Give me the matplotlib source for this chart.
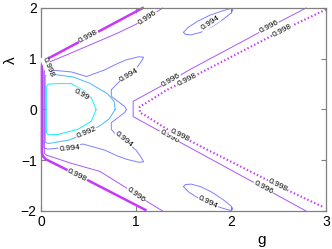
import numpy as np
import matplotlib
matplotlib.use("Agg")
import matplotlib.pyplot as plt

# ---------------- data: contour lines (g, lambda) ----------------
levels = [0.99, 0.992, 0.994, 0.996, 0.998]
xticks = [0, 1, 2, 3]
yticks = [-2, -1, 0, 1, 2]

c990_g = [0.58, 0.53, 0.46, 0.32, 0.18, 0.075, 0.056, 0.056, 0.075, 0.18, 0.39, 0.53, 0.58]
c990_l = [0.0, 0.23, 0.36, 0.51, 0.51, 0.50, 0.45, -0.45, -0.50, -0.49, -0.39, -0.23, 0.0]

c992_g = [0.78, 0.77, 0.70, 0.51, 0.34, 0.10, 0.045, 0.045, 0.08, 0.30, 0.48, 0.62, 0.72, 0.78]
c992_l = [0.0, 0.16, 0.31, 0.52, 0.64, 0.70, 0.67, -0.65, -0.67, -0.60, -0.46, -0.32, -0.18, 0.0]

c994_g = [0.90, 0.88, 0.74, 0.74, 0.83, 0.93, 1.00, 1.06, 1.08, 1.03, 0.90, 0.81, 0.67, 0.48,
          0.32, 0.09, 0.03, 0.03, 0.074, 0.30, 0.44, 0.67, 0.81, 0.90, 1.03, 1.08, 1.06, 1.00,
          0.87, 0.78, 0.74, 0.74, 0.88, 0.90]
c994_l = [0.0, 0.06, 0.26, 0.39, 0.56, 0.67, 0.80, 0.96, 1.03, 1.04, 0.98, 0.91, 0.78, 0.65,
          0.74, 0.78, 0.76, -0.76, -0.78, -0.74, -0.68, -0.80, -0.92, -0.98, -1.04, -1.03,
          -0.96, -0.80, -0.60, -0.48, -0.39, -0.26, -0.06, 0.0]

e994u_g = [1.50, 1.55, 1.65, 1.78, 1.92, 2.00, 2.02, 2.00, 1.92, 1.80, 1.68, 1.58, 1.52, 1.50]
e994u_l = [1.52, 1.62, 1.74, 1.86, 1.95, 1.99, 1.96, 1.90, 1.78, 1.63, 1.52, 1.47, 1.48, 1.52]
e994d_g = [1.50, 1.55, 1.65, 1.78, 1.92, 2.00, 2.02, 2.00, 1.92, 1.80, 1.68, 1.58, 1.52, 1.50]
e994d_l = [-1.52, -1.62, -1.74, -1.86, -1.95, -1.99, -1.96, -1.90, -1.78, -1.63, -1.52, -1.47, -1.48, -1.52]

c996a_g = [1.28, 1.12, 1.00, 0.80, 0.55, 0.30, 0.07, 0.035, 0.035, 0.06, 0.30, 0.62, 0.92, 1.00, 1.28]
c996a_l = [2.00, 1.80, 1.68, 1.50, 1.30, 1.10, 0.92, 0.86, -0.86, -0.90, -1.05, -1.22, -1.57, -1.68, -2.00]

c996b_g = [2.79, 2.40, 1.57, 1.37, 0.97, 0.97, 1.35, 2.34, 2.79]
c996b_l = [2.00, 1.62, 0.79, 0.57, 0.16, -0.14, -0.53, -1.54, -2.00]

c998a_g = [1.07, 0.50, 0.23, 0.11, 0.04, 0.015, 0.01, 0.01, 0.02, 0.05, 0.20, 0.52, 1.10]
c998a_l = [2.00, 1.43, 1.16, 1.04, 0.98, 0.93, 0.85, -0.85, -0.92, -0.98, -1.12, -1.42, -1.98]

c998b_g = [3.00, 2.55, 1.78, 1.32, 1.10, 1.04, 1.04, 1.10, 1.32, 1.78, 2.55, 2.98]
c998b_l = [1.97, 1.57, 0.82, 0.38, 0.12, 0.06, -0.06, -0.12, -0.38, -0.82, -1.55, -1.93]

# label positions (g, lambda) on each line
lab990 = [(0.43, 0.30)]
lab992 = [(0.48, -0.46)]
lab994 = [(0.93, 0.67), (0.30, -0.76), (0.87, -0.60)]
lab994e = [(1.78, 1.70)]
lab994f = [(1.76, -1.83)]
lab996a = [(1.12, 1.80), (1.00, -1.68)]
lab996b = [(1.37, 0.57), (2.40, 1.62), (1.35, -0.53), (2.34, -1.54)]
lab998a = [(0.50, 1.43), (0.38, -1.30)]
lab998c = [(0.07, 0.83)]          # steep label at the upper-left corner
lab998b = [(1.54, 0.59), (2.54, 1.56), (1.46, -0.51), (2.49, -1.49)]

# ---------------- figure ----------------
W, H = 332, 249
fig = plt.figure(figsize=(W / 100, H / 100), dpi=100)
ax = fig.add_axes([41 / W, 1 - 211 / H, (326 - 41) / W, (211 - 8) / H])
ax.set_xlim(0, 3)
ax.set_ylim(-2, 2)

cmap = plt.get_cmap('cool')
tvals = {0.99: 0.06, 0.992: 0.28, 0.994: 0.5, 0.996: 0.66, 0.998: 0.78}
col = {lv: cmap(tvals[lv]) for lv in levels}

thin = 0.7
lines = [
    (c990_g, c990_l, 0.99, dict(lw=thin)),
    (c992_g, c992_l, 0.992, dict(lw=thin)),
    (c994_g, c994_l, 0.994, dict(lw=thin)),
    (e994u_g, e994u_l, 0.994, dict(lw=thin)),
    (e994d_g, e994d_l, 0.994, dict(lw=thin)),
    (c996a_g, c996a_l, 0.996, dict(lw=thin)),
    (c996b_g, c996b_l, 0.996, dict(lw=thin)),
    (c998a_g, c998a_l, 0.998, dict(lw=1.8)),
    (c998b_g, c998b_l, 0.998, dict(lw=1.5, dashes=(0.7, 1.1))),
]
for gx, ly, lv, kw in lines:
    ax.plot(gx, ly, color=col[lv], solid_joinstyle='round', clip_on=False, **kw)


def seg_angle(gx, ly, p):
    pts = ax.transData.transform(np.column_stack([gx, ly]))
    q = ax.transData.transform(p)
    best, ang = 1e9, 0.0
    for i in range(len(pts) - 1):
        a, b = pts[i], pts[i + 1]
        d = b - a
        L = np.hypot(*d)
        if L == 0:
            continue
        t = np.clip(np.dot(q - a, d) / L ** 2, 0, 1)
        dist = np.hypot(*(a + t * d - q))
        if dist < best:
            best = dist
            ang = np.degrees(np.arctan2(d[1], d[0]))
    if ang > 90:
        ang -= 180
    if ang < -90:
        ang += 180
    return ang


def put_label(p, lv, a):
    txt = ('%.3f' % lv).rstrip('0')
    ax.text(p[0], p[1], txt, rotation=a, rotation_mode='anchor',
            ha='center', va='center', fontsize=6, family='Liberation Sans',
            color='black', zorder=5,
            bbox=dict(boxstyle='square,pad=0.05', fc='white', ec='none'))


labels = [
    (c990_g, c990_l, 0.99, lab990),
    (c992_g, c992_l, 0.992, lab992),
    (c994_g, c994_l, 0.994, lab994),
    (e994u_g, e994u_l, 0.994, lab994e),
    (e994d_g, e994d_l, 0.994, lab994f),
    (c996a_g, c996a_l, 0.996, lab996a),
    (c996b_g, c996b_l, 0.996, lab996b),
    (c998a_g, c998a_l, 0.998, lab998a),
    (c998b_g, c998b_l, 0.998, lab998b),
]
for gx, ly, lv, pos in labels:
    for p in pos:
        put_label(p, lv, seg_angle(gx, ly, p))
for p in lab998c:
    put_label(p, 0.998, -68)

# axes styling (MATLAB-like box, inward ticks)
for s in ax.spines.values():
    s.set_color('#808080')
    s.set_linewidth(0.9)
ax.set_xticks(xticks)
ax.set_yticks(yticks)
ax.set_xticklabels([str(v) for v in xticks])
ax.set_yticklabels([str(v).replace('-', '\u2212') for v in yticks])
ax.tick_params(direction='in', length=3.5, width=0.8, color='#808080',
               top=True, right=True, labelsize=10, pad=3)
for t in ax.get_xticklabels() + ax.get_yticklabels():
    t.set_family('Liberation Sans')

fig.text(262 / W, 1 - 240 / H, 'g', fontsize=11, family='Liberation Sans',
         ha='center', va='center')
fig.text(11 / W, 1 - 60 / H, '\u03bb', fontsize=11, family='Liberation Sans',
         ha='center', va='center', rotation=90)

fig.savefig('out.png', dpi=100)
